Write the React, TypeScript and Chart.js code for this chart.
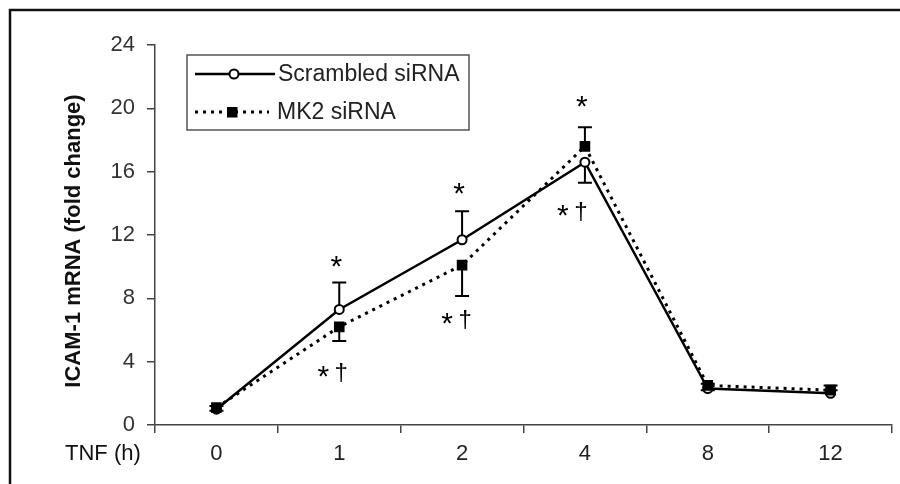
import React, { useEffect, useRef } from "react";
import { Chart, registerables } from "chart.js";

Chart.register(...registerables);

const categories = ["0", "1", "2", "4", "8", "12"];
const scrambled = [1.0, 7.3, 11.7, 16.6, 2.3, 2.0];
const scrambledErrUp = [0.2, 1.7, 1.8, 0, 0.3, 0.2];
const scrambledErrDown = [0, 0, 0, 1.3, 0, 0];
const mk2 = [1.1, 6.2, 10.1, 17.6, 2.5, 2.2];
const mk2ErrUp = [0, 0, 0, 1.2, 0, 0.3];
const mk2ErrDown = [0.2, 0.9, 1.95, 0, 0.3, 0];
const starShown = [false, true, true, true, false, false];
const starValues = [0, 10.23, 14.85, 20.34, 0, 0];
const daggerShown = [false, true, true, true, false, false];
const daggerValues = [0, 3.28, 6.63, 13.45, 0, 0];
const yTicks = [0, 4, 8, 12, 16, 20, 24];

const FONT = "'Liberation Sans', Arial, sans-serif";
const daggerShift = [0, -7, -6, -13, 0, 0];

const errorBars = {
  id: "errorBars",
  beforeDatasetsDraw(chart: any) {
    const ctx = chart.ctx;
    const ys = chart.scales.y;
    const sets = [
      { idx: 0, vals: scrambled, up: scrambledErrUp, down: scrambledErrDown },
      { idx: 1, vals: mk2, up: mk2ErrUp, down: mk2ErrDown },
    ];
    ctx.save();
    ctx.strokeStyle = "#000";
    ctx.lineWidth = 2;
    sets.forEach((s) => {
      const meta = chart.getDatasetMeta(s.idx);
      meta.data.forEach((pt: any, i: number) => {
        const x = pt.x;
        const y0 = ys.getPixelForValue(s.vals[i]);
        const draws: number[] = [];
        if (s.up[i] > 0) draws.push(s.vals[i] + s.up[i]);
        if (s.down[i] > 0) draws.push(s.vals[i] - s.down[i]);
        draws.forEach((v) => {
          const y1 = ys.getPixelForValue(v);
          ctx.beginPath();
          ctx.moveTo(x, y0);
          ctx.lineTo(x, y1);
          ctx.moveTo(x - 7, y1);
          ctx.lineTo(x + 7, y1);
          ctx.stroke();
        });
      });
    });
    ctx.restore();
  },
};

const decorations = {
  id: "decorations",
  afterDraw(chart: any) {
    const ctx = chart.ctx;
    const xs = chart.scales.x;
    const ys = chart.scales.y;
    ctx.save();
    // outer frame (top and left visible)
    ctx.strokeStyle = "#111";
    ctx.lineWidth = 2.5;
    ctx.strokeRect(10, 10, 920, 520);

    // annotations
    ctx.fillStyle = "#000";
    ctx.textAlign = "center";
    ctx.textBaseline = "alphabetic";
    categories.forEach((c, i) => {
      const x = xs.getPixelForValue(i);
      if (starShown[i]) {
        ctx.font = `30px ${FONT}`;
        ctx.fillText("*", x - 3, ys.getPixelForValue(starValues[i]) + 13);
      }
      if (daggerShown[i]) {
        const cy = ys.getPixelForValue(daggerValues[i]);
        const cx = x + daggerShift[i];
        ctx.font = `30px ${FONT}`;
        ctx.fillText("*", cx - 9, cy + 13);
        ctx.font = `24px ${FONT}`;
        ctx.fillText("†", cx + 9, cy + 7);
      }
    });

    // y axis title
    ctx.save();
    ctx.translate(74, 241);
    ctx.rotate(-Math.PI / 2);
    ctx.font = `bold 22px ${FONT}`;
    ctx.textAlign = "center";
    ctx.textBaseline = "middle";
    ctx.fillStyle = "#111";
    ctx.fillText("ICAM-1 mRNA (fold change)", 0, 0);
    ctx.restore();

    // x axis title
    ctx.font = `22px ${FONT}`;
    ctx.textAlign = "left";
    ctx.textBaseline = "middle";
    ctx.fillStyle = "#111";
    ctx.fillText("TNF (h)", 65, 454);

    // legend
    ctx.strokeStyle = "#555";
    ctx.lineWidth = 1.5;
    ctx.strokeRect(187, 55, 282, 75);
    ctx.strokeStyle = "#000";
    ctx.lineWidth = 2.5;
    ctx.beginPath();
    ctx.moveTo(195, 74);
    ctx.lineTo(275, 74);
    ctx.stroke();
    ctx.fillStyle = "#fff";
    ctx.lineWidth = 2;
    ctx.beginPath();
    ctx.arc(234, 74, 4.5, 0, Math.PI * 2);
    ctx.fill();
    ctx.stroke();
    ctx.lineWidth = 3;
    ctx.setLineDash([3, 5]);
    ctx.beginPath();
    ctx.moveTo(195, 112);
    ctx.lineTo(269, 112);
    ctx.stroke();
    ctx.setLineDash([]);
    ctx.fillStyle = "#000";
    ctx.fillRect(227, 107, 10.5, 10.5);
    ctx.font = `23px ${FONT}`;
    ctx.fillStyle = "#222";
    ctx.textAlign = "left";
    ctx.textBaseline = "middle";
    ctx.fillText("Scrambled siRNA", 278, 75);
    ctx.fillText("MK2 siRNA", 277, 113);
    ctx.restore();
  },
};

export default function App() {
  const ref = useRef<HTMLCanvasElement>(null);
  useEffect(() => {
    if (!ref.current) return;
    const chart = new Chart(ref.current, {
      type: "line",
      data: {
        labels: categories,
        datasets: [
          {
            label: "Scrambled siRNA",
            data: scrambled,
            borderColor: "#000",
            borderWidth: 2.5,
            pointStyle: "circle",
            pointRadius: 4.5,
            pointBorderWidth: 2,
            pointBackgroundColor: "#fff",
            pointBorderColor: "#000",
            tension: 0,
            order: 1,
          },
          {
            label: "MK2 siRNA",
            data: mk2,
            borderColor: "#000",
            borderWidth: 3,
            borderDash: [3, 5],
            pointStyle: "rect",
            pointRadius: 7.5,
            pointBorderWidth: 0,
            pointBackgroundColor: "#000",
            pointBorderColor: "#000",
            tension: 0,
            order: 0,
          },
        ],
      },
      options: {
        animation: false,
        responsive: false,
        maintainAspectRatio: false,
        layout: { padding: { left: 0, top: 45, right: 8, bottom: 0 } },
        plugins: { legend: { display: false }, tooltip: { enabled: false } },
        scales: {
          x: {
            offset: true,
            grid: {
              offset: true,
              drawOnChartArea: false,
              drawTicks: true,
              tickLength: 8,
              color: "#444",
              lineWidth: 1.5,
            },
            border: { color: "#444", width: 1.5 },
            ticks: { color: "#222", font: { family: FONT, size: 22 }, padding: 8 },
            afterFit: (scale: any) => {
              scale.height = 59;
            },
          },
          y: {
            min: 0,
            max: 24,
            afterBuildTicks: (scale: any) => {
              scale.ticks = yTicks.map((v) => ({ value: v }));
            },
            grid: {
              drawOnChartArea: false,
              drawTicks: true,
              tickLength: 8,
              color: "#444",
              lineWidth: 1.5,
            },
            border: { color: "#444", width: 1.5 },
            ticks: { color: "#333", font: { family: FONT, size: 22 }, padding: 12 },
            afterFit: (scale: any) => {
              scale.width = 155;
            },
          },
        },
      },
      plugins: [errorBars, decorations],
    });
    return () => chart.destroy();
  }, []);
  return (
    <div style={{ position: "absolute", left: 0, top: 0, width: 900, height: 484, background: "#fff" }}>
      <canvas ref={ref} width={900} height={484} />
    </div>
  );
}
